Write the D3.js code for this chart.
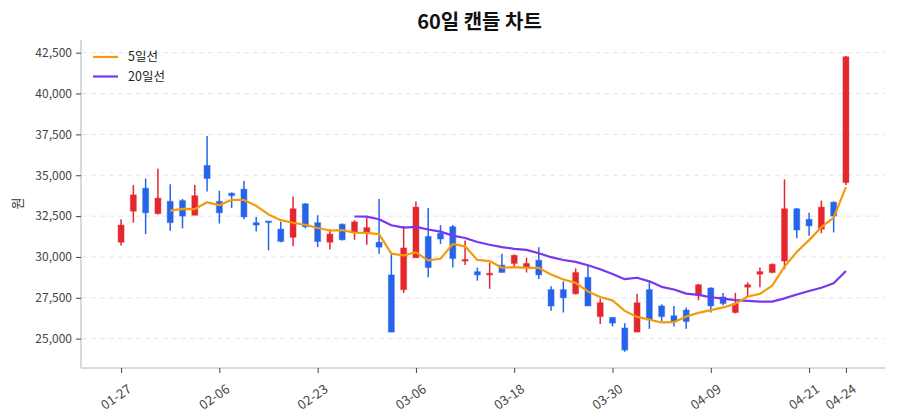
<!DOCTYPE html>
<html>
<head>
<meta charset="utf-8">
<script src="https://cdn.jsdelivr.net/npm/d3@7"></script>
<style>
  body { margin: 0; background: #fff; }
  #chart { width: 900px; height: 420px; }
  text { font-family: "Noto Sans CJK KR", "Noto Sans", sans-serif; }
</style>
</head>
<body>
<div id="chart"></div>
<script>
(function () {
  "use strict";

  // trading days (2026), one per candle
  const dates = [
    "01-27", "01-28", "01-29", "01-30", "02-02", "02-03", "02-04", "02-05", "02-06", "02-09",
    "02-10", "02-11", "02-12", "02-13", "02-19", "02-20", "02-23", "02-24", "02-25", "02-26",
    "02-27", "03-03", "03-04", "03-05", "03-06", "03-09", "03-10", "03-11", "03-12", "03-13",
    "03-16", "03-17", "03-18", "03-19", "03-20", "03-23", "03-24", "03-25", "03-26", "03-27",
    "03-30", "03-31", "04-01", "04-02", "04-03", "04-06", "04-07", "04-08", "04-09", "04-10",
    "04-13", "04-14", "04-15", "04-16", "04-17", "04-20", "04-21", "04-22", "04-23", "04-24",
  ];
  const tickDates = ["01-27", "02-06", "02-23", "03-06", "03-18", "03-30", "04-09", "04-21", "04-24"];
  const yTicks = [25000, 27500, 30000, 32500, 35000, 37500, 40000, 42500];

  const open = [
    30900, 32800, 34200, 32650, 33400, 33450, 32550, 35600, 33400, 33900,
    34150, 32100, 32200, 31700, 31200, 33250, 32100, 30900, 32000, 31500,
    31500, 30900, 28900, 28000, 29950, 31250, 31450, 31850, 29750, 29100,
    28900, 29500, 29600, 29350, 29800, 28000, 28000, 27750, 28750, 26350,
    26300, 25650, 25400, 28000, 27000, 26400, 26750, 27650, 28100, 27550,
    26600, 28150, 28950, 29050, 29750, 32950, 32300, 31700, 33350, 34550,
  ];
  const close = [
    31950, 33800, 32700, 33600, 32100, 32500, 33750, 34800, 32700, 33750,
    32450, 31950, 32150, 30950, 32950, 31850, 30950, 31400, 31050, 32150,
    31800, 30600, 25400, 30550, 33050, 29350, 31100, 29900, 29850, 28900,
    29000, 29050, 30100, 29600, 28900, 27000, 27500, 29050, 27000, 27200,
    25950, 24300, 27200, 26150, 26350, 26050, 26050, 28300, 27000, 27150,
    27150, 28300, 29100, 29550, 32950, 31650, 31900, 33050, 32500, 42250,
  ];
  const high = [
    32300, 34400, 34800, 35400, 34450, 33550, 34400, 37400, 34050, 33950,
    34650, 32450, 32200, 32150, 33700, 33300, 32550, 31700, 32050, 32250,
    32400, 33550, 30300, 31900, 33400, 33000, 31950, 31950, 31000, 29350,
    29650, 30200, 30150, 29950, 30600, 28200, 28500, 29300, 29450, 27450,
    26300, 25950, 27750, 28450, 27100, 27000, 26900, 28350, 28150, 27800,
    27800, 28450, 29350, 29600, 34750, 33000, 32700, 33450, 33400, 42300,
  ];
  const low = [
    30700, 32100, 31400, 32600, 31600, 31750, 32550, 34000, 32050, 33000,
    32300, 31550, 30400, 30900, 30650, 31750, 30600, 30450, 31000, 31050,
    30750, 30200, 25400, 27800, 29950, 28750, 30800, 29350, 29500, 28550,
    28050, 29050, 29450, 29050, 28650, 26700, 26600, 27700, 27000, 25900,
    25750, 24200, 25400, 25600, 26050, 25750, 25600, 27350, 26600, 27050,
    26550, 27550, 28150, 29000, 29250, 31150, 31300, 31450, 31500, 34400,
  ];

  const upColor = "#e3272d";
  const downColor = "#2563eb";
  const ma5Color = "#f59b0b";
  const ma20Color = "#7b35ee";

  const candles = dates.map((d, i) => ({
    i: i, date: d, open: open[i], close: close[i], high: high[i], low: low[i],
  }));

  // moving averages from the closes (only where the window is full)
  function movingAvg(n) {
    return candles
      .filter((c) => c.i >= n - 1)
      .map((c) => ({ i: c.i, v: d3.mean(close.slice(c.i - n + 1, c.i + 1)) }));
  }
  const ma5 = movingAvg(5);
  const ma20 = movingAvg(20);

  const width = 900;
  const height = 420;
  const margin = { top: 40, right: 15, bottom: 53, left: 82 };

  const svg = d3
    .select("#chart")
    .append("svg")
    .attr("width", width)
    .attr("height", height);

  const x = d3
    .scaleLinear()
    .domain([-3.18, dates.length - 1 + 3.18])
    .range([margin.left, width - margin.right]);

  const y = d3
    .scaleLinear()
    .domain([23265, 43277])
    .range([height - margin.bottom, margin.top]);

  // title
  svg
    .append("text")
    .attr("x", (margin.left + width - margin.right) / 2 - 4)
    .attr("y", 29)
    .attr("text-anchor", "middle")
    .style("font-size", "20px")
    .style("font-weight", "bold")
    .style("fill", "#111")
    .text("60일 캔들 차트");

  // y label
  svg
    .append("text")
    .attr("transform", `translate(22, ${(margin.top + height - margin.bottom) / 2}) rotate(-90)`)
    .attr("text-anchor", "middle")
    .style("font-size", "13px")
    .style("fill", "#333")
    .text("원");

  // grid
  svg
    .append("g")
    .selectAll("line")
    .data(yTicks)
    .join("line")
    .attr("x1", margin.left)
    .attr("x2", width - margin.right)
    .attr("y1", (d) => y(d))
    .attr("y2", (d) => y(d))
    .attr("stroke", "#e3e5ea")
    .attr("stroke-width", 1)
    .attr("stroke-dasharray", "5,4");

  // axes
  const yAxis = svg
    .append("g")
    .attr("transform", `translate(${margin.left - 1},0)`)
    .call(d3.axisLeft(y).tickValues(yTicks).tickFormat(d3.format(",")).tickSize(5).tickPadding(4));

  const tickIdx = tickDates.map((t) => dates.lastIndexOf(t));
  const xAxis = svg
    .append("g")
    .attr("transform", `translate(0,${height - margin.bottom + 1})`)
    .call(
      d3.axisBottom(x)
        .tickValues(tickIdx)
        .tickFormat((i) => dates[i])
        .tickSize(5)
        .tickPadding(4)
    );

  [yAxis, xAxis].forEach((ax) => {
    ax.select(".domain").attr("stroke", "#d5d9e0").attr("stroke-width", 2);
    ax.selectAll(".tick line").attr("stroke", "#444");
    ax.selectAll(".tick text")
      .style("font-size", "12px")
      .style("fill", "#444")
      .style("font-family", '"Noto Sans CJK KR", "Noto Sans", sans-serif');
  });
  // axisLeft draws the outer tick too, strip it to a plain spine
  yAxis.select(".domain").attr("d", `M0,${margin.top}V${height - margin.bottom + 1}`);
  xAxis.select(".domain").attr("d", `M${margin.left - 1},0H${width - margin.right}`);

  xAxis
    .selectAll(".tick text")
    .style("font-size", "13px")
    .attr("text-anchor", "end")
    .attr("dy", "0.35em")
    .attr("transform", "translate(3,12) rotate(-35)");

  // candles
  const bodyW = 6;
  const g = svg.append("g");

  g.selectAll("line.wick")
    .data(candles)
    .join("line")
    .attr("class", "wick")
    .attr("x1", (d) => x(d.i))
    .attr("x2", (d) => x(d.i))
    .attr("y1", (d) => y(d.high))
    .attr("y2", (d) => y(d.low))
    .attr("stroke", (d) => (d.close >= d.open ? upColor : downColor))
    .attr("stroke-width", 1.5);

  g.selectAll("rect.body")
    .data(candles)
    .join("rect")
    .attr("class", "body")
    .attr("x", (d) => x(d.i) - bodyW / 2)
    .attr("y", (d) => y(Math.max(d.open, d.close)))
    .attr("width", bodyW)
    .attr("height", (d) => Math.max(1.5, Math.abs(y(d.open) - y(d.close))))
    .attr("fill", (d) => (d.close >= d.open ? upColor : downColor))
    .attr("stroke", (d) => (d.close >= d.open ? upColor : downColor))
    .attr("stroke-opacity", 0.35)
    .attr("stroke-width", 1.2);

  // moving average lines
  const line = d3
    .line()
    .x((d) => x(d.i))
    .y((d) => y(d.v));

  svg
    .append("path")
    .datum(ma20)
    .attr("d", line)
    .attr("fill", "none")
    .attr("stroke", ma20Color)
    .attr("stroke-width", 2.2)
    .attr("stroke-linejoin", "round");

  svg
    .append("path")
    .datum(ma5)
    .attr("d", line)
    .attr("fill", "none")
    .attr("stroke", ma5Color)
    .attr("stroke-width", 2.2)
    .attr("stroke-linejoin", "round");

  // legend
  const legendItems = [
    { label: "5일선", color: ma5Color },
    { label: "20일선", color: ma20Color },
  ];
  const legend = svg
    .append("g")
    .selectAll("g")
    .data(legendItems)
    .join("g")
    .attr("transform", (d, i) => `translate(93, ${57 + i * 19.5})`);

  legend
    .append("line")
    .attr("x1", 0)
    .attr("x2", 25)
    .attr("stroke", (d) => d.color)
    .attr("stroke-width", 2.2);

  legend
    .append("text")
    .attr("x", 35)
    .attr("dy", "0.35em")
    .style("font-size", "12.5px")
    .style("fill", "#222")
    .text((d) => d.label);
})();
</script>
</body>
</html>
